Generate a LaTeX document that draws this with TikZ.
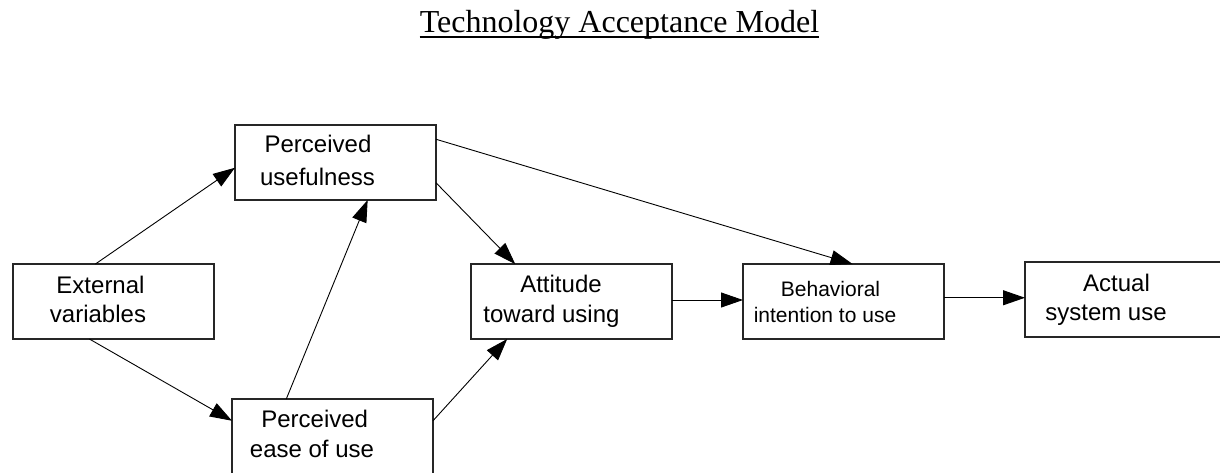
\documentclass[tikz,border=0pt]{standalone}
\usepackage{fontspec}
\setmainfont{Liberation Serif}
\newfontfamily\boxfont{Liberation Sans}
\usetikzlibrary{arrows.meta,calc}
\begin{document}
\begin{tikzpicture}[x=1pt,y=-1pt,
  box/.style={draw=black!85,line width=1.1pt,minimum width=201pt,minimum height=75pt,
    inner sep=0pt,outer sep=0pt,anchor=north west},
  lbl/.style={anchor=base,inner sep=0pt,font=\boxfont\fontsize{24}{28}\selectfont},
  lblsm/.style={anchor=base,inner sep=0pt,font=\boxfont\fontsize{21}{25}\selectfont},
  link/.style={line width=0.9pt,-{Triangle[length=22pt,width=15pt]}}]
\useasboundingbox (0,0) rectangle (1220,472);
\clip (0,0) rectangle (1220,472);

% title
\node[anchor=base,inner sep=0pt,font=\fontsize{32}{36}\selectfont] (title) at (619.5,32)
  {Technology Acceptance Model};
\draw[line width=1.4pt] ([yshift=-5pt]title.base west) -- ([yshift=-5pt]title.base east);

% boxes
\node[box] (ev)   at (13,264)  {};
\node[box] (pu)   at (235,125) {};
\node[box] (peou) at (232,399) {};
\node[box] (atu)  at (471,264) {};
\node[box] (bi)   at (743,264) {};
\node[box] (asu)  at (1025,262) {};

% box texts, one node per line
\node[lbl] (evA)   at (100.5,293.3) {External};
\node[lbl] (evB)   at (98,322.5)    {variables};
\node[lbl] (puA)   at (318,152.7)   {Perceived};
\node[lbl] (puB)   at (317.5,185)   {usefulness};
\node[lbl] (peouA) at (314.7,427.7) {Perceived};
\node[lbl] (peouB) at (312,457.7)   {ease of use};
\node[lbl] (atuA)  at (561,292)     {Attitude};
\node[lbl] (atuB)  at (551.5,322)   {toward using};
\node[lblsm] (biA) at (830.5,296)   {Behavioral};
\node[lblsm] (biB) at (825,322)     {intention to use};
\node[lbl] (asuA)  at (1116.5,291)  {Actual};
\node[lbl] (asuB)  at (1106,320.7)  {system use};

% connectors
\draw[link] ($(ev.north west)!0.41!(ev.north east)$) -- ($(pu.north west)!0.57!(pu.south west)$);
\draw[link] ($(ev.south west)!0.38!(ev.south east)$) -- ($(peou.north west)!0.29!(peou.south west)$);
\draw[link] ($(peou.north west)!0.27!(peou.north east)$) -- ($(pu.south west)!0.66!(pu.south east)$);
\draw[link] ($(pu.north east)!0.77!(pu.south east)$) -- ($(atu.north west)!0.22!(atu.north east)$);
\draw[link] ($(pu.north east)!0.19!(pu.south east)$) -- ($(bi.north west)!0.545!(bi.north east)$);
\draw[link] ($(peou.north east)!0.29!(peou.south east)$) -- ($(atu.south west)!0.18!(atu.south east)$);
\draw[link] ($(atu.north east)!0.48!(atu.south east)$) -- ($(bi.north west)!0.48!(bi.south west)$);
\draw[link] ($(bi.north east)!0.45!(bi.south east)$) -- (asu.west |- {$(bi.north east)!0.45!(bi.south east)$});
\end{tikzpicture}
\end{document}
